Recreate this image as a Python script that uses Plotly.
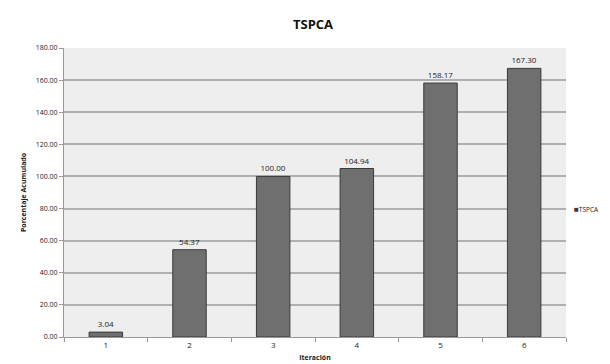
import plotly.graph_objects as go

iterations = ["1", "2", "3", "4", "5", "6"]
values = [3.04, 54.37, 100.00, 104.94, 158.17, 167.30]
y_ticks = [0, 20, 40, 60, 80, 100, 120, 140, 160, 180]
series_name = "TSPCA"

fig = go.Figure()
fig.add_trace(go.Bar(
    x=iterations, y=values, name=series_name, showlegend=False,
    marker=dict(color="#6f6f6f", line=dict(color="#3a3a3a", width=1)),
    width=0.4,
    text=[f"{v:.2f}" for v in values], textposition="outside",
    textfont=dict(size=8, color="#222222"), cliponaxis=False,
))

# compact legend key (small square + label), as in the original
fig.add_annotation(
    xref="paper", yref="paper", x=1.014, y=0.443, xanchor="left", yanchor="middle",
    text=f"<span style='color:#3a3a3a;font-size:8px'>■</span>{series_name}",
    showarrow=False, font=dict(size=6.5, color="#222222"), borderpad=0,
)

fig.update_layout(
    width=610, height=364,
    margin=dict(l=56, r=52, t=40, b=30),
    paper_bgcolor="white", plot_bgcolor="#eeeeee",
    font=dict(family="Open Sans, Arial, sans-serif", color="#222222", size=7),
    title=dict(text="<b>TSPCA</b>", x=0.5, xanchor="center", y=0.955, yanchor="middle",
               font=dict(size=13, color="#111111")),
    showlegend=False,
    bargap=0.6,
    xaxis=dict(
        title=dict(text="<b>Iteración</b>", font=dict(size=7), standoff=6),
        showline=True, linecolor="#999999", linewidth=1,
        ticks="outside", tickson="boundaries", ticklen=4, tickcolor="#999999",
        tickfont=dict(size=8), showgrid=False,
    ),
    yaxis=dict(
        title=dict(text="<b>Porcentaje Acumulado</b>", font=dict(size=7), standoff=8),
        range=[0, 180], tickvals=y_ticks, tickformat=".2f",
        showline=True, linecolor="#999999", linewidth=1,
        ticks="outside", ticklen=4, tickcolor="#999999",
        gridcolor="#b0b0b0", gridwidth=1.5, tickfont=dict(size=7),
        zeroline=False,
    ),
)

fig.write_html("out.html")
